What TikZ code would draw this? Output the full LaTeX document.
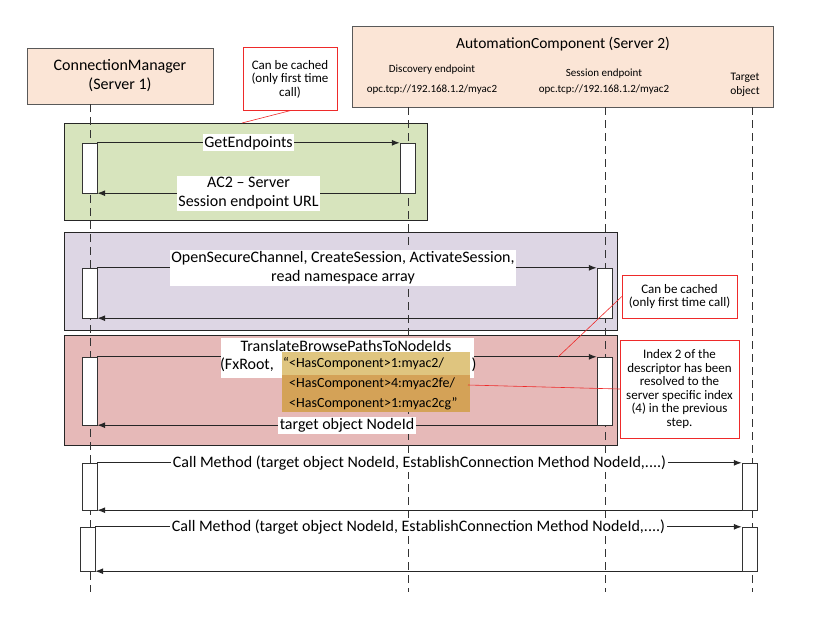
\documentclass[tikz,border=0pt]{standalone}
\usepackage{fontspec}
\setmainfont{Carlito}
\usepackage{tikz}
\usetikzlibrary{positioning}
\usetikzlibrary{arrows.meta}

\definecolor{piel}{HTML}{FBE5D6}
\definecolor{verde}{HTML}{D7E4BD}
\definecolor{lila}{HTML}{DDD6E4}
\definecolor{rosa}{HTML}{E6B9B8}
\definecolor{oroclaro}{HTML}{DFC57F}
\definecolor{orooscuro}{HTML}{D4A257}
\definecolor{rojonota}{HTML}{EE2A2A}

\begin{document}
\begin{tikzpicture}[x=1pt, y=-1pt,
    >={Latex[length=8pt,width=6pt]},
    cabecera/.style={draw=black!65, fill=piel, inner sep=0pt, align=center, font=\fontsize{16}{19}\selectfont},
    grupo/.style={draw=black!85, line width=0.8pt, inner sep=0pt},
    act/.style={draw=black!80, fill=white, minimum width=15pt, inner sep=0pt},
    vida/.style={draw=black!80, dash pattern=on 8pt off 5pt},
    msg/.style={->, draw=black!85, line width=1pt},
    etq/.style={fill=white, inner sep=1.5pt, align=center, font=\fontsize{16}{19}\selectfont},
    peq/.style={inner sep=0pt, align=center, font=\fontsize{11}{16}\selectfont},
    nota/.style={draw=rojonota, fill=white, inner sep=0pt, align=center, font=\fontsize{13}{13.6}\selectfont},
    enlace/.style={draw=rojonota, line width=0.6pt},
    ruta/.style={inner sep=0pt, anchor=west, font=\fontsize{14}{17}\selectfont}]
    \useasboundingbox (0,0) rectangle (817,624);

    % Cabeceras
    \node[cabecera, minimum width=186pt, minimum height=56pt] (cm) at (120,76) {ConnectionManager\\(Server 1)};
    \node[cabecera, minimum width=421pt, minimum height=81pt] (ac) at (562.5,66.5) {};
    \node[inner sep=0pt, font=\fontsize{15.5}{18}\selectfont] (acTitulo) at (563,44) {AutomationComponent (Server 2)};
    \node[peq, font=\fontsize{11}{20}\selectfont] (disc) at (432,80) {Discovery endpoint\\opc.tcp://192.168.1.2/myac2};
    \node[peq] (sesion) at (604,82) {Session endpoint\\opc.tcp://192.168.1.2/myac2};
    \node[peq, font=\fontsize{11.5}{14}\selectfont] (objetivo) at (745,85) {Target\\object};

    % Notas
    \node[nota, minimum width=94pt, minimum height=63pt] (cache1) at (290,79) {Can be cached\\(only first time\\call)};
    \node[nota, minimum width=115pt, minimum height=43pt] (cache2) at (679.5,296.5) {Can be cached\\(only first time call)};
    \node[nota, minimum width=119pt, minimum height=98pt] (indice) at (679.5,389) {Index 2 of the\\descriptor has been\\resolved to the\\server specific index\\(4) in the previous\\step.};

    % Grupos
    \node[grupo, fill=verde, minimum width=363pt, minimum height=97pt] (gVerde) at (245.5,171.5) {};
    \node[grupo, fill=lila, minimum width=553pt, minimum height=98pt] (gLila) at (340.5,281) {};
    \node[grupo, fill=rosa, minimum width=553pt, minimum height=110pt] (gRosa) at (340.5,390) {};

    % Lineas de vida
    \coordinate (cmArriba) at (90,104);
    \coordinate (cmAbajo) at (90,592);
    \coordinate (discArriba) at (408,107);
    \coordinate (discAbajo) at (408,592);
    \coordinate (sesArriba) at (605,107);
    \coordinate (sesAbajo) at (605,592);
    \coordinate (objArriba) at (752,107);
    \coordinate (objAbajo) at (752,592);
    \draw[vida] (cmArriba) -- (cmAbajo);
    \draw[vida] (discArriba) -- (discAbajo);
    \draw[vida] (sesArriba) -- (sesAbajo);
    \draw[vida] (objArriba) -- (objAbajo);

    % Activaciones
    \node[act, minimum height=50pt] (cmA1) at (89.5,168) {};
    \node[act, minimum height=50pt] (deA1) at (407.5,168) {};
    \node[act, minimum height=50pt] (cmA2) at (89.5,293) {};
    \node[act, minimum height=50pt] (seA2) at (604.5,293) {};
    \node[act, minimum height=68pt] (cmA3) at (89.5,391) {};
    \node[act, minimum height=68pt] (seA3) at (604.5,391) {};
    \node[act, minimum height=47pt] (cmA4) at (89.5,486.5) {};
    \node[act, minimum height=47pt] (obA4) at (749.5,486.5) {};
    \node[act, minimum height=44pt] (cmA5) at (87.5,549) {};
    \node[act, minimum height=44pt] (obA5) at (749.5,549) {};

    % Mensajes
    \draw[msg] (cmA1.north east) -- node[etq] {GetEndpoints} (deA1.north west);
    \draw[msg] (deA1.south west) -- node[etq] {AC2 -- Server\\Session endpoint URL} (cmA1.south east);
    \draw[msg] (cmA2.north east) -- node[etq, xshift=-4pt] {OpenSecureChannel, CreateSession, ActivateSession,\\read namespace array} (seA2.north west);
    \draw[msg] (seA2.south west) -- (cmA2.south east);
    \draw[msg] (cmA3.north east) -- (seA3.north west);
    \draw[msg] (seA3.south west) -- node[etq] {target object NodeId} (cmA3.south east);
    \draw[msg] (cmA4.north east) -- node[etq] {Call Method (target object NodeId, EstablishConnection Method NodeId,....)} (obA4.north west);
    \draw[msg] (obA4.south west) -- (cmA4.south east);
    \draw[msg] (cmA5.north east) -- node[etq] {Call Method (target object NodeId, EstablishConnection Method NodeId,....)} (obA5.north west);
    \draw[msg] (obA5.south west) -- (cmA5.south east);

    % Etiqueta de TranslateBrowsePathsToNodeIds
    \node[fill=white, inner sep=0pt, minimum width=253pt, minimum height=40pt] (tbFondo) at (347.5,358) {};
    \node[inner sep=0pt, font=\fontsize{16}{19}\selectfont] (tbTexto) at (346,346) {TranslateBrowsePathsToNodeIds};
    \node[inner sep=0pt, font=\fontsize{16}{19}\selectfont] (fx) at (247,365) {(FxRoot,};
    \node[inner sep=0pt, font=\fontsize{16}{19}\selectfont] (cierre) at (474,365) {)};
    \node[fill=oroclaro, inner sep=0pt, minimum width=188pt, minimum height=23pt] (oroA) at (376,363.5) {};
    \node[fill=orooscuro, inner sep=0pt, minimum width=188pt, minimum height=37pt] (oroB) at (376,393.5) {};
    \node[ruta] (ruta1) at (283,364) {“<HasComponent>1:myac2/};
    \node[ruta] (ruta2) at (289,384) {<HasComponent>4:myac2fe/};
    \node[ruta] (ruta3) at (289,404) {<HasComponent>1:myac2cg”};

    % Enlaces de las notas
    \coordinate (puntaVerde) at (242,123);
    \coordinate (puntaFlecha) at (558,357);
    \coordinate (puntaOro) at (468,385);
    \draw[enlace] (cache1.south) -- (puntaVerde);
    \draw[enlace] (cache2.west) -- (puntaFlecha);
    \draw[enlace] (indice.west) -- (puntaOro);
\end{tikzpicture}
\end{document}
